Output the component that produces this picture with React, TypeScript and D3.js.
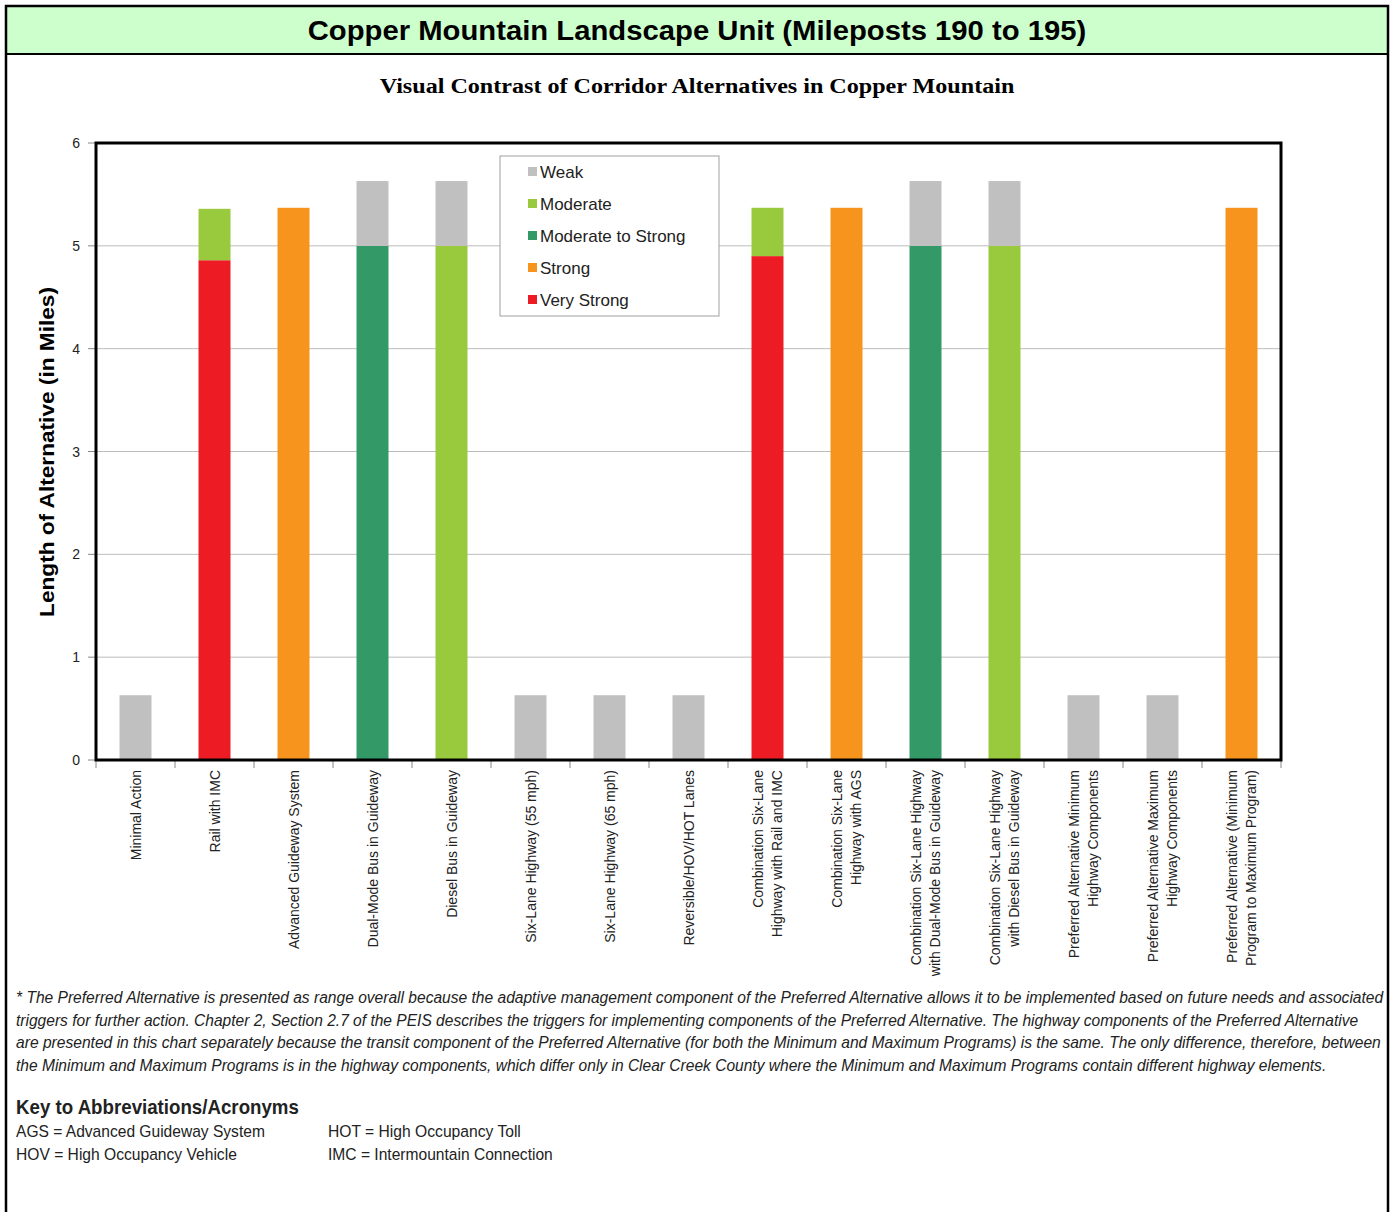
import React, { useLayoutEffect, useRef, useState } from "react";
import * as d3 from "d3";

const categories: string[][] = [
  ["Minimal Action"],
  ["Rail with IMC"],
  ["Advanced Guideway System"],
  ["Dual-Mode Bus in Guideway"],
  ["Diesel Bus in Guideway"],
  ["Six-Lane Highway (55 mph)"],
  ["Six-Lane Highway (65 mph)"],
  ["Reversible/HOV/HOT Lanes"],
  ["Combination Six-Lane", "Highway with Rail and IMC"],
  ["Combination Six-Lane", "Highway with AGS"],
  ["Combination Six-Lane Highway", "with Dual-Mode Bus in Guideway"],
  ["Combination Six-Lane Highway", "with Diesel Bus in Guideway"],
  ["Preferred Alternative Minimum", "Highway Components"],
  ["Preferred Alternative Maximum", "Highway Components"],
  ["Preferred Alternative (Minimum", "Program to Maximum Program)"],
];

const veryStrong = [0, 4.86, 0, 0, 0, 0, 0, 0, 4.9, 0, 0, 0, 0, 0, 0];
const strong = [0, 0, 5.37, 0, 0, 0, 0, 0, 0, 5.37, 0, 0, 0, 0, 5.37];
const moderateToStrong = [0, 0, 0, 5, 0, 0, 0, 0, 0, 0, 5, 0, 0, 0, 0];
const moderate = [0, 0.5, 0, 0, 5, 0, 0, 0, 0.47, 0, 0, 5, 0, 0, 0];
const weak = [0.63, 0, 0, 0.63, 0.63, 0.63, 0.63, 0.63, 0, 0, 0.63, 0.63, 0.63, 0.63, 0];

const seriesNames = ["Very Strong", "Strong", "Moderate to Strong", "Moderate", "Weak"];
const seriesColors = ["#ed1c24", "#f7941d", "#339966", "#99c93c", "#c0c0c0"];
const legendOrder = ["Weak", "Moderate", "Moderate to Strong", "Strong", "Very Strong"];
const yTicks = [0, 1, 2, 3, 4, 5, 6];

const footnote = [
  "* The Preferred Alternative is presented as range overall because the adaptive management component of the Preferred Alternative allows it to be implemented based on future needs and associated",
  "triggers for further action. Chapter 2, Section 2.7 of the PEIS describes the triggers for implementing components of the Preferred Alternative. The highway components of the Preferred Alternative",
  "are presented in this chart separately because the transit component of the Preferred Alternative (for both the Minimum and Maximum Programs) is the same.  The only difference, therefore, between",
  "the Minimum and Maximum Programs is in the highway components, which differ only in Clear Creek County where the Minimum and Maximum Programs contain different highway elements.",
];
const footWidths = [1368, 1344, 1366, 1312];
const keyLeft = ["AGS = Advanced Guideway System", "HOV = High Occupancy Vehicle"];
const keyRight = ["HOT = High Occupancy Toll", "IMC = Intermountain Connection"];

function FitText(props: {
  x: number;
  y: number;
  width: number;
  rotate?: number;
  anchor?: string;
  style: any;
  children: string;
}) {
  const ref = useRef<SVGTextElement>(null);
  const [s, setS] = useState(1);
  useLayoutEffect(() => {
    if (ref.current) {
      const w = ref.current.getComputedTextLength();
      if (w > 0) setS(props.width / w);
    }
  }, [props.width, props.children]);
  const rot = props.rotate ? ` rotate(${props.rotate})` : "";
  return (
    <text
      ref={ref}
      transform={`translate(${props.x},${props.y})${rot} scale(${s},1)`}
      textAnchor={props.anchor || "start"}
      style={props.style}
    >
      {props.children}
    </text>
  );
}

export default function App() {
  const W = 1395, H = 1212;
  const L = 96, R = 1281, T = 143, B = 760;
  const names = categories.map((c) => c.join(" "));
  const x = d3.scaleBand<string>().domain(names).range([L, R]).paddingInner(0.595).paddingOuter(0.2975);
  const y = d3.scaleLinear().domain([0, 6]).range([B, T]);
  const rows = names.map((n, i) => ({
    name: n,
    "Very Strong": veryStrong[i],
    Strong: strong[i],
    "Moderate to Strong": moderateToStrong[i],
    Moderate: moderate[i],
    Weak: weak[i],
  }));
  const stacked = d3.stack<any>().keys(seriesNames)(rows);
  const step = x.step();
  const narrow = "'Liberation Sans Narrow', 'Arial Narrow', 'Liberation Sans', Arial, sans-serif";
  const sans = "'Liberation Sans', Arial, sans-serif";

  return (
    <svg width={W} height={H} style={{ position: "absolute", left: 0, top: 0, display: "block", background: "#fff" }}>
      {/* title bar */}
      <rect x={6} y={6} width={1382} height={48} fill="#ccffcc" />
      <line x1={6} y1={54} x2={1388} y2={54} stroke="#000" strokeWidth={2} />
      <rect x={6} y={6} width={1382} height={1220} fill="none" stroke="#000" strokeWidth={2.5} />
      <FitText x={697} y={40} width={779} anchor="middle" style={{ fontFamily: sans, fontWeight: "bold", fontSize: 27 }}>
        Copper Mountain Landscape Unit (Mileposts 190 to 195)
      </FitText>
      <FitText x={697} y={93} width={635} anchor="middle" style={{ fontFamily: "'Liberation Serif', 'Times New Roman', serif", fontWeight: "bold", fontSize: 21 }}>
        Visual Contrast of Corridor Alternatives in Copper Mountain
      </FitText>

      {/* gridlines */}
      {yTicks.filter((t) => t > 0 && t < 6).map((t) => (
        <line key={t} x1={L} x2={R} y1={y(t)} y2={y(t)} stroke="#bdbdbd" strokeWidth={1} />
      ))}

      {/* bars */}
      {stacked.map((s, si) => (
        <g key={s.key} fill={seriesColors[si]}>
          {s.map((d, i) =>
            d[1] - d[0] > 0 ? (
              <rect key={i} x={x(names[i])} width={x.bandwidth()} y={y(d[1])} height={y(d[0]) - y(d[1])} />
            ) : null
          )}
        </g>
      ))}

      {/* y axis ticks */}
      {yTicks.map((t) => (
        <g key={t}>
          <line x1={88} x2={L} y1={y(t)} y2={y(t)} stroke="#888" strokeWidth={1} />
          <text x={80} y={y(t) + 5} textAnchor="end" fontFamily={sans} fontSize={14} fill="#222">
            {t}
          </text>
        </g>
      ))}
      {/* x ticks */}
      {d3.range(names.length + 1).map((i) => (
        <line key={i} x1={L + i * step} x2={L + i * step} y1={B} y2={B + 8} stroke="#888" strokeWidth={1} />
      ))}

      {/* frame */}
      <rect x={L} y={T} width={R - L} height={B - T} fill="none" stroke="#000" strokeWidth={3} />

      {/* x labels */}
      {categories.map((lines, i) => {
        const cx = (x(names[i]) as number) + x.bandwidth() / 2;
        const n = lines.length;
        return lines.map((ln, j) => {
          const off = (j - (n - 1) / 2) * 19 + 5;
          return (
            <text key={i + "-" + j} transform={`translate(${cx + off},770) rotate(-90)`} textAnchor="end" fontFamily={sans} fontSize={14} fill="#222">
              {ln}
            </text>
          );
        });
      })}

      {/* y label */}
      <FitText x={54} y={452} width={330} rotate={-90} anchor="middle" style={{ fontFamily: sans, fontWeight: "bold", fontSize: 21 }}>
        Length of Alternative (in Miles)
      </FitText>

      {/* legend */}
      <rect x={500} y={156} width={219} height={160} fill="#fff" stroke="#a0a0a0" strokeWidth={1} />
      {legendOrder.map((nm, k) => {
        const yy = 172 + k * 32;
        return (
          <g key={nm}>
            <rect x={528} y={yy - 5} width={9} height={9} fill={seriesColors[seriesNames.indexOf(nm)]} />
            <text x={540} y={yy + 6} fontFamily={sans} fontSize={17} fill="#222">
              {nm}
            </text>
          </g>
        );
      })}

      {/* footnote */}
      {footnote.map((ln, i) => (
        <FitText key={i} x={16} y={1003 + i * 22.7} width={footWidths[i]} style={{ fontFamily: narrow, fontStyle: "italic", fontSize: 16, fill: "#222" }}>
          {ln}
        </FitText>
      ))}

      {/* key */}
      <FitText x={16} y={1114} width={283} style={{ fontFamily: narrow, fontWeight: "bold", fontSize: 21, fill: "#222" }}>
        Key to Abbreviations/Acronyms
      </FitText>
      {keyLeft.map((t, i) => (
        <FitText key={t} x={16} y={1137 + i * 23} width={i === 0 ? 249 : 221} style={{ fontFamily: narrow, fontSize: 17, fill: "#222" }}>
          {t}
        </FitText>
      ))}
      {keyRight.map((t, i) => (
        <FitText key={t} x={328} y={1137 + i * 23} width={i === 0 ? 193 : 225} style={{ fontFamily: narrow, fontSize: 17, fill: "#222" }}>
          {t}
        </FitText>
      ))}
    </svg>
  );
}
